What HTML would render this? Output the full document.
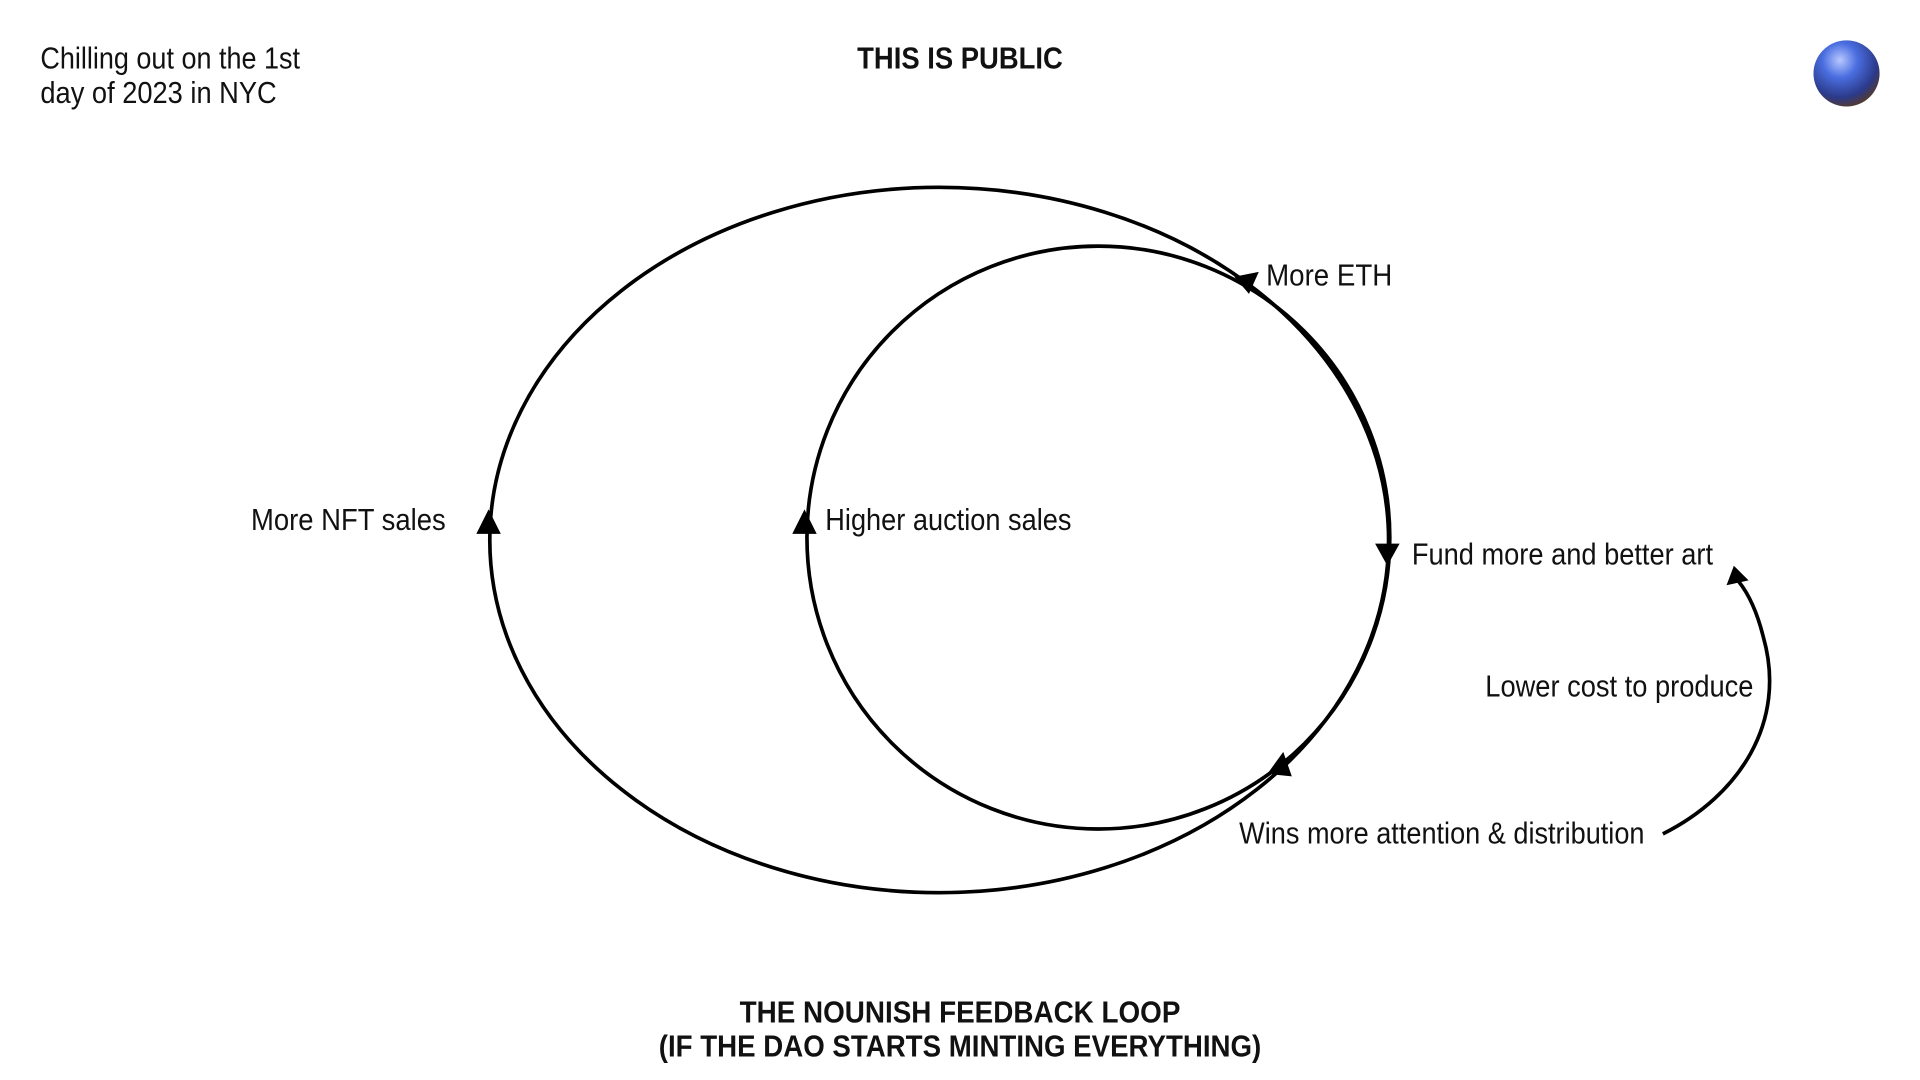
<!DOCTYPE html>
<html><head><meta charset="utf-8"><style>
html,body{margin:0;padding:0;background:#fff;width:1920px;height:1080px;overflow:hidden}
svg{display:block}
text{font-family:"Liberation Sans Narrow","Liberation Sans",sans-serif;fill:#111}
</style></head><body>
<svg width="1920" height="1080" viewBox="0 0 1568 882" xmlns="http://www.w3.org/2000/svg">
<defs>
<radialGradient id="g" cx="0.4" cy="0.3" r="0.75">
<stop offset="0" stop-color="#b8c8ff"/><stop offset="0.35" stop-color="#4a6ee0"/><stop offset="0.75" stop-color="#2b3a8a"/><stop offset="1" stop-color="#5a3a20"/>
</radialGradient>
</defs>
<text x="33" y="56" font-size="25" textLength="212" lengthAdjust="spacingAndGlyphs">Chilling out on the 1st</text>
<text x="33" y="84" font-size="25" textLength="193" lengthAdjust="spacingAndGlyphs">day of 2023 in NYC</text>
<text x="700" y="56" font-size="25" font-weight="bold" textLength="168" lengthAdjust="spacingAndGlyphs">THIS IS PUBLIC</text>
<circle cx="1508" cy="60" r="27" fill="url(#g)"/>
<ellipse cx="767" cy="441" rx="367" ry="288" fill="none" stroke="#000" stroke-width="3"/>
<ellipse cx="897" cy="439" rx="238" ry="238" fill="none" stroke="#000" stroke-width="3"/>
<polygon points="1008,226 1028,222 1020,240" fill="#000"/>
<polygon points="1123,444 1143,444 1133,462" fill="#000"/>
<polygon points="1035,632 1055,634 1048,614" fill="#000"/>
<polygon points="389,436 409,436 399,416" fill="#000"/>
<polygon points="647,436 667,436 657,416" fill="#000"/>
<path d="M1358,681 C1420,650 1460,590 1440,520 C1435,500 1428,485 1420,475" fill="none" stroke="#000" stroke-width="3"/>
<polygon points="1410,478 1428,474 1416,462" fill="#000"/>
<text x="1034" y="233" font-size="25" textLength="103" lengthAdjust="spacingAndGlyphs">More ETH</text>
<text x="205" y="433" font-size="25" textLength="159" lengthAdjust="spacingAndGlyphs">More NFT sales</text>
<text x="674" y="433" font-size="25" textLength="201" lengthAdjust="spacingAndGlyphs">Higher auction sales</text>
<text x="1153" y="461" font-size="25" textLength="246" lengthAdjust="spacingAndGlyphs">Fund more and better art</text>
<text x="1213" y="569" font-size="25" textLength="219" lengthAdjust="spacingAndGlyphs">Lower cost to produce</text>
<text x="1012" y="689" font-size="25" textLength="331" lengthAdjust="spacingAndGlyphs">Wins more attention &amp; distribution</text>
<text x="604" y="835" font-size="25" font-weight="bold" textLength="360" lengthAdjust="spacingAndGlyphs">THE NOUNISH FEEDBACK LOOP</text>
<text x="538" y="863" font-size="25" font-weight="bold" textLength="492" lengthAdjust="spacingAndGlyphs">(IF THE DAO STARTS MINTING EVERYTHING)</text>
</svg>
</body></html>
